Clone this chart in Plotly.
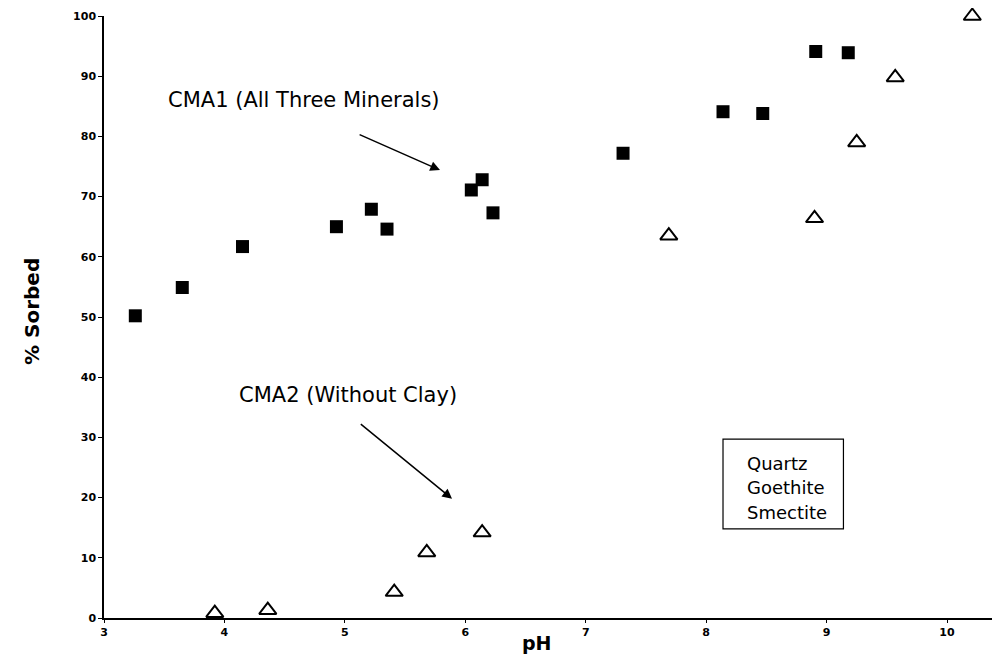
import plotly.graph_objects as go

# CMA1 (All Three Minerals) - filled squares
cma1_ph = [3.26, 3.65, 4.15, 4.93, 5.22, 5.35, 6.05, 6.14, 6.23, 7.31, 8.14, 8.47, 8.91, 9.18]
cma1_sorbed = [50.2, 54.9, 61.7, 65.0, 67.9, 64.6, 71.1, 72.8, 67.3, 77.2, 84.1, 83.8, 94.1, 93.9]

# CMA2 (Without Clay) - open triangles
cma2_ph = [3.92, 4.36, 5.41, 5.68, 6.14, 7.69, 8.90, 9.25, 9.57, 10.21]
cma2_sorbed = [0.8, 1.3, 4.3, 10.9, 14.2, 63.5, 66.4, 79.0, 89.8, 100.0]

x_ticks = [3, 4, 5, 6, 7, 8, 9, 10]
y_ticks = [0, 10, 20, 30, 40, 50, 60, 70, 80, 90, 100]
box_lines = ["Quartz", "Goethite", "Smectite"]

fig = go.Figure()
fig.add_trace(go.Scatter(
    x=cma1_ph, y=cma1_sorbed, mode="markers", name="CMA1",
    marker=dict(symbol="square", size=13, color="black"),
    cliponaxis=False, showlegend=False))
fig.add_trace(go.Scatter(
    x=cma2_ph, y=cma2_sorbed, mode="markers", name="CMA2",
    marker=dict(symbol="triangle-up-open", size=15, color="black",
                line=dict(width=2, color="black")),
    cliponaxis=False, showlegend=False))

tickfont = dict(family="DejaVu Sans, sans-serif", size=11, color="black",
                weight="bold")
# page body has an 8px default margin, so the figure is sized/offset to compensate
fig.update_layout(
    width=992, height=648,
    margin=dict(l=96, r=0, t=8, b=38, autoexpand=False),
    paper_bgcolor="white", plot_bgcolor="white",
    xaxis=dict(range=[3, 10.44], tickvals=x_ticks, showgrid=False, zeroline=False,
               showline=True, linecolor="black", linewidth=2,
               ticks="outside", ticklen=3, tickcolor="black",
               tickfont=tickfont, automargin=False),
    yaxis=dict(range=[0, 100], tickvals=y_ticks, showgrid=False, zeroline=False,
               showline=True, linecolor="black", linewidth=1.5,
               ticks="outside", ticklen=4, tickcolor="black",
               tickfont=tickfont, automargin=False),
)

ann_font = dict(family="DejaVu Sans, sans-serif", size=21, color="black")
# axis titles
fig.add_annotation(text="<b>% Sorbed</b>", xref="paper", yref="paper",
                   x=-0.096, y=0.51, textangle=-90, showarrow=False,
                   font=dict(family="DejaVu Sans, sans-serif", size=20, color="black"))
fig.add_annotation(text="<b>pH</b>", xref="paper", yref="paper", x=0.483, y=-0.042,
                   showarrow=False, yanchor="middle",
                   font=dict(family="DejaVu Sans, sans-serif", size=19, color="black"))

# labels with arrows
fig.add_annotation(text="CMA1 (All Three Minerals)", x=4.66, y=86.0, showarrow=False,
                   font=ann_font)
fig.add_annotation(x=5.79, y=74.4, ax=5.11, ay=80.4, axref="x", ayref="y",
                   text="", showarrow=True, arrowhead=2, arrowsize=1.3,
                   arrowwidth=1.5, arrowcolor="black")
fig.add_annotation(text="CMA2 (Without Clay)", x=5.03, y=37.0, showarrow=False,
                   font=ann_font)
fig.add_annotation(x=5.89, y=19.8, ax=5.12, ay=32.4, axref="x", ayref="y",
                   text="", showarrow=True, arrowhead=2, arrowsize=1.3,
                   arrowwidth=1.5, arrowcolor="black")

# mineral box
fig.add_shape(type="rect", x0=8.14, x1=9.14, y0=14.8, y1=29.7,
              line=dict(color="black", width=1.2), fillcolor="rgba(0,0,0,0)")
for label, yv in zip(box_lines, [25.6, 21.6, 17.6]):
    fig.add_annotation(text=label, x=8.32, y=yv, xanchor="left", showarrow=False,
                       font=dict(family="DejaVu Sans, sans-serif", size=18, color="black"))

fig.write_html("out.html")
